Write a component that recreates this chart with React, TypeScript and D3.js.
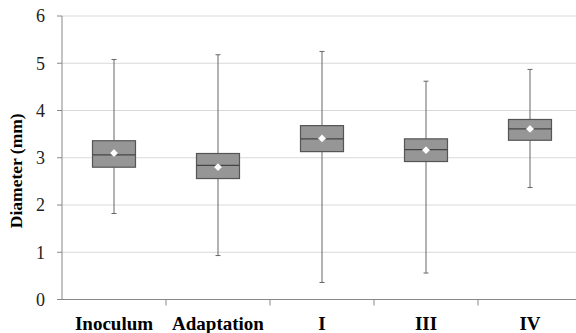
import React from 'react'
import * as d3 from 'd3'

const categories = ['Inoculum', 'Adaptation', 'I', 'III', 'IV']
const whiskerHigh = [5.08, 5.18, 5.25, 4.62, 4.87]
const q3 = [3.36, 3.09, 3.68, 3.40, 3.81]
const medians = [3.06, 2.84, 3.40, 3.17, 3.61]
const means = [3.10, 2.80, 3.41, 3.16, 3.61]
const q1 = [2.80, 2.56, 3.13, 2.92, 3.37]
const whiskerLow = [1.82, 0.93, 0.36, 0.56, 2.37]
const yTicks = [0, 1, 2, 3, 4, 5, 6]

export default function App() {
    const w = 576
    const h = 333
    const left = 62
    const right = 582
    const top = 16
    const bottom = 299.5

    const x = d3.scaleBand().domain(categories).range([left, right])
    const y = d3.scaleLinear().domain([0, 6]).range([bottom, top])
    const boxW = 43

    return (
        <svg width={w} height={h} style={{ position: 'absolute', left: 0, top: 0, background: '#fff' }}
            fontFamily="'Liberation Serif', 'Times New Roman', serif">
            {yTicks.filter(t => t > 0).map(t => (
                <line key={'g' + t} x1={left} x2={right} y1={y(t)} y2={y(t)} stroke="#d9d9d9" strokeWidth={1} />
            ))}
            {/* axes */}
            <line x1={left} x2={left} y1={top} y2={bottom} stroke="#888" />
            <line x1={left} x2={right} y1={bottom} y2={bottom} stroke="#888" />
            {yTicks.map(t => (
                <g key={'t' + t}>
                    <line x1={left - 5} x2={left} y1={y(t)} y2={y(t)} stroke="#888" />
                    <text x={left - 17} y={y(t)} dy="0.35em" textAnchor="end" fontSize={18} fill="#222">{t}</text>
                </g>
            ))}
            {categories.slice(1).map(c => (
                <line key={'xt' + c} x1={x(c)!} x2={x(c)!} y1={bottom} y2={bottom + 6} stroke="#888" />
            ))}
            {categories.map((c, i) => {
                const cx = x(c)! + x.bandwidth() / 2
                return (
                    <g key={c}>
                        <line x1={cx} x2={cx} y1={y(whiskerHigh[i])} y2={y(q3[i])} stroke="#666" />
                        <line x1={cx} x2={cx} y1={y(q1[i])} y2={y(whiskerLow[i])} stroke="#666" />
                        <line x1={cx - 2.5} x2={cx + 2.5} y1={y(whiskerHigh[i])} y2={y(whiskerHigh[i])} stroke="#666" />
                        <line x1={cx - 2.5} x2={cx + 2.5} y1={y(whiskerLow[i])} y2={y(whiskerLow[i])} stroke="#666" />
                        <rect x={cx - boxW / 2} y={y(q3[i])} width={boxW} height={y(q1[i]) - y(q3[i])}
                            fill="#969696" stroke="#555" strokeWidth={1.2} />
                        <line x1={cx - boxW / 2} x2={cx + boxW / 2} y1={y(medians[i])} y2={y(medians[i])} stroke="#444" strokeWidth={1.2} />
                        <path d={d3.symbol(d3.symbolDiamond2, 44)()!} transform={`translate(${cx},${y(means[i])})`}
                            fill="#fff" stroke="#888" strokeWidth={0.5} />
                        <text x={cx} y={bottom + 30} textAnchor="middle" fontSize={19} fontWeight="bold" fill="#000">{c}</text>
                    </g>
                )
            })}
            <text transform={`translate(22,${(top + bottom) / 2 + 13}) rotate(-90)`} textAnchor="middle"
                fontSize={17.5} fontWeight="bold" fill="#000">Diameter (mm)</text>
        </svg>
    )
}
